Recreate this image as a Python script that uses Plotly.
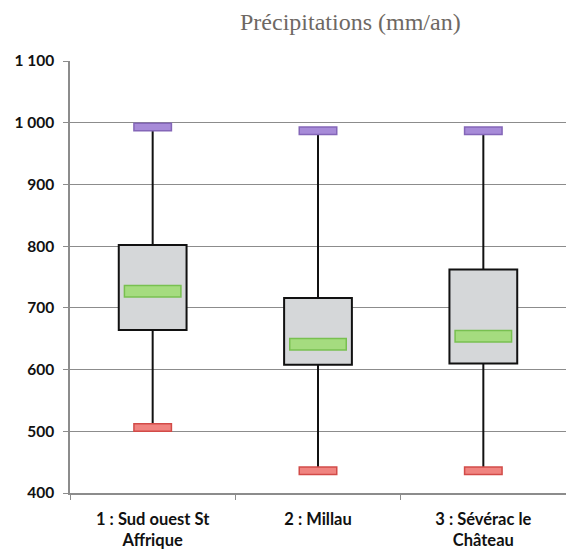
import plotly.graph_objects as go

categories = ["1 : Sud ouest St<br>Affrique", "2 : Millau", "3 : Sévérac le<br>Château"]
q1 = [664, 608, 610]
median = [727, 641, 654]
q3 = [802, 716, 762]
minimum = [506, 436, 436]
maximum = [993, 987, 987]
y_tickvals = [400, 500, 600, 700, 800, 900, 1000, 1100]
y_ticktext = ["400", "500", "600", "700", "800", "900", "1 000", "1 100"]
title_text = "Précipitations (mm/an)"

fig = go.Figure()

# whiskers (two segments per category: min->q1 and q3->max)
wx, wy = [], []
for c, lo, a, b, hi in zip(categories, minimum, q1, q3, maximum):
    wx += [c, c, None, c, c, None]
    wy += [lo, a, None, b, hi, None]
fig.add_trace(go.Scatter(
    x=wx, y=wy, mode="lines", line=dict(color="#111111", width=2),
    showlegend=False, hoverinfo="skip",
))

# boxes q1 -> q3
fig.add_trace(go.Bar(
    x=categories, base=q1, y=[b - a for a, b in zip(q1, q3)],
    width=0.41, marker=dict(color="#d5d7d9", line=dict(color="#111111", width=2)),
    showlegend=False, hoverinfo="skip",
))

def bar_marker(yvals, outer, inner, px_width, thick):
    # plotly's line-ew symbol spans 1.4 * size pixels
    fig.add_trace(go.Scatter(
        x=categories, y=yvals, mode="markers", showlegend=False, hoverinfo="skip",
        marker=dict(symbol="line-ew", size=px_width / 1.4, line=dict(color=outer, width=thick)),
    ))
    fig.add_trace(go.Scatter(
        x=categories, y=yvals, mode="markers", showlegend=False, hoverinfo="skip",
        marker=dict(symbol="line-ew", size=(px_width - 3) / 1.4, line=dict(color=inner, width=thick - 3)),
    ))

bar_marker(median, "#78c050", "#a5dc7f", 58, 13)
bar_marker(maximum, "#8466b8", "#a78bd8", 39, 9)
bar_marker(minimum, "#d24b48", "#f08480", 39, 9)

PL, PT, PW, PH = 70, 61, 496, 432

fig.update_layout(
    width=566, height=552,
    margin=dict(l=PL, r=566 - PL - PW, t=PT, b=552 - PT - PH),
    paper_bgcolor="white", plot_bgcolor="white",
    barmode="overlay",
    font=dict(family="Lato", color="#111111"),
    annotations=[dict(
        text=title_text, xref="paper", yref="paper",
        x=(350 - PL) / PW, y=(PT + PH - 22) / PH,
        xanchor="center", yanchor="middle",
        showarrow=False, font=dict(family="Liberation Serif", size=24, color="#6e6863"),
    )],
)

fig.update_yaxes(
    range=[400, 1100], tickvals=y_tickvals, ticktext=y_ticktext,
    showgrid=True, gridcolor="#8c8c8c", gridwidth=1.3,
    showline=True, linecolor="#8c8c8c", linewidth=1.5,
    ticks="outside", ticklen=5, tickcolor="#8c8c8c",
    tickfont=dict(family="Lato", size=15.5, color="#111111", weight="bold"),
    zeroline=False, ticklabelstandoff=6,
)
fig.update_xaxes(
    range=[-0.5, 2.5],
    showline=True, linecolor="#8c8c8c", linewidth=1.5,
    ticks="outside", ticklen=5, tickcolor="#8c8c8c", tickson="boundaries",
    tickfont=dict(family="Lato", size=16.5, color="#111111", weight="bold"),
    showgrid=False, ticklabelstandoff=10,
)

fig.write_html("out.html")
